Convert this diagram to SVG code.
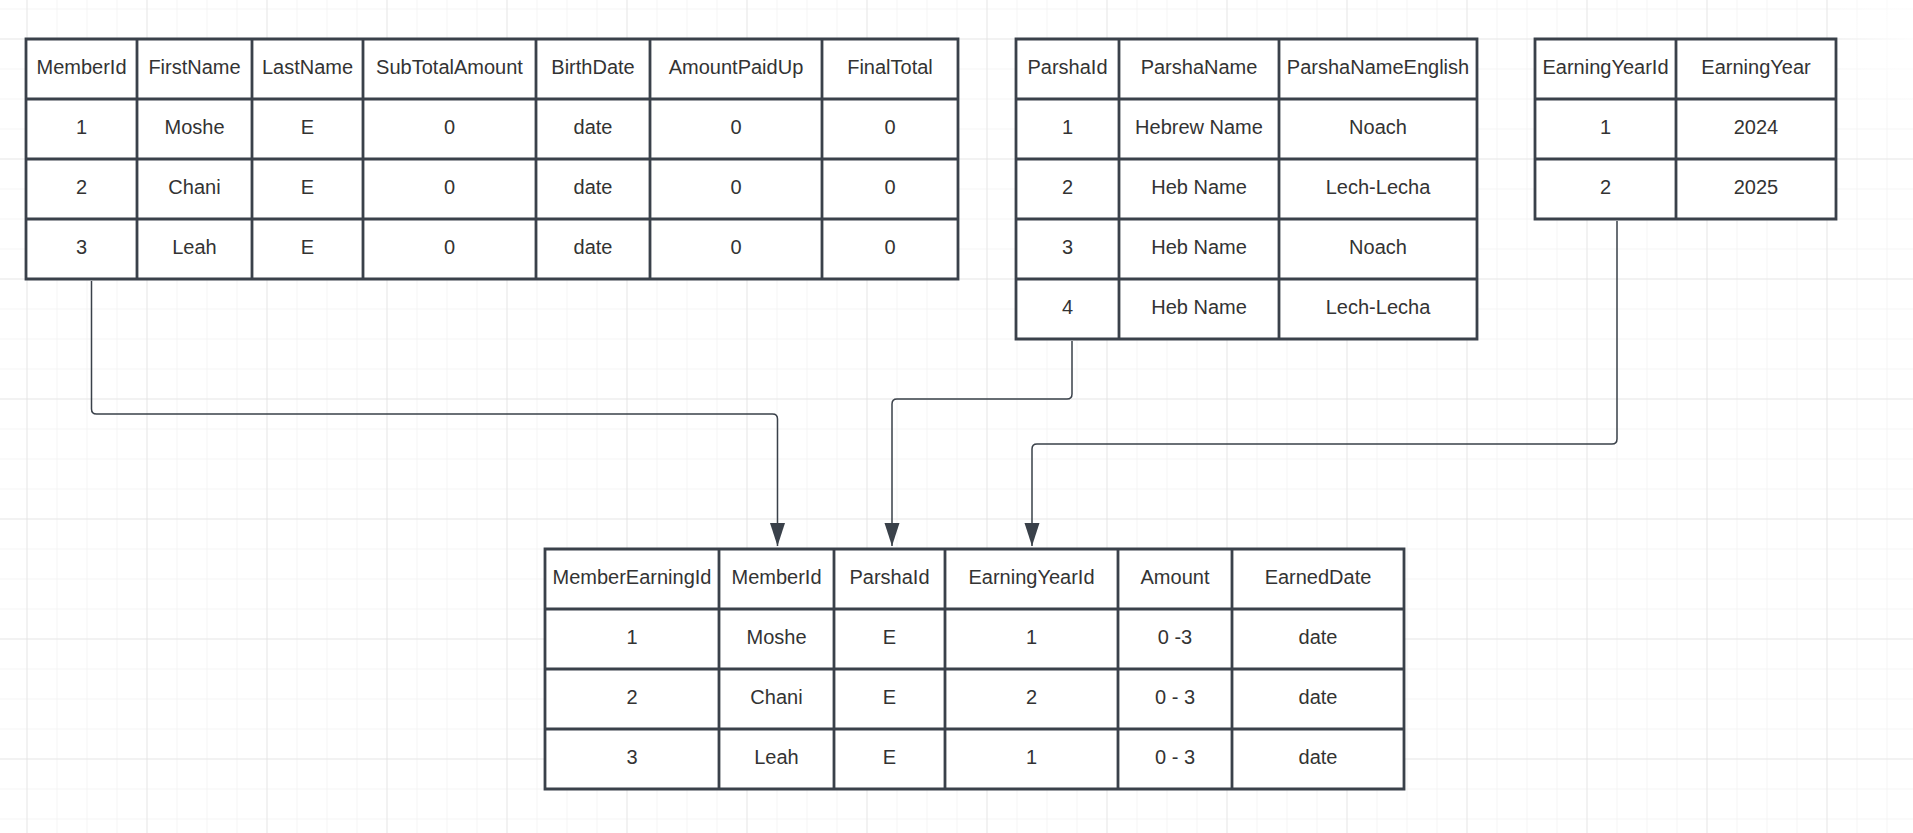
<svg xmlns="http://www.w3.org/2000/svg" width="1913" height="833" viewBox="0 0 1913 833">
  <defs>
    <!-- background grid: minor every 30px, major every 120px -->
    <pattern id="minorGrid" x="26.5" y="8.5" width="30" height="30" patternUnits="userSpaceOnUse">
      <path d="M 0 0 H 30 M 0 0 V 30" fill="none" stroke="#ebebeb" stroke-width="1"/>
    </pattern>
    <pattern id="majorGrid" x="26.5" y="38.5" width="120" height="120" patternUnits="userSpaceOnUse">
      <path d="M 0 0 H 120 M 0 0 V 120" fill="none" stroke="#dcdcdc" stroke-width="1"/>
    </pattern>
    <radialGradient id="cornerFade" cx="1913" cy="40" r="90" gradientUnits="userSpaceOnUse">
      <stop offset="0" stop-color="#ffffff" stop-opacity="0.9"/>
      <stop offset="1" stop-color="#ffffff" stop-opacity="0"/>
    </radialGradient>
    <marker id="arrow" markerUnits="userSpaceOnUse" markerWidth="24" markerHeight="16" viewBox="0 -8 24 16" refX="23" refY="0" orient="auto">
      <path d="M 0 -7.5 L 23 0 L 0 7.5 Z" fill="#3a414a"/>
    </marker>
    <style>
      .cell { fill: #ffffff; stroke: #3a414a; stroke-width: 2.8; }
      .txt { font-family: "Liberation Sans", Arial, sans-serif; font-size: 20px; fill: #333333; text-anchor: middle; }
      .link { fill: none; stroke: #3a414a; stroke-width: 1.5; marker-end: url(#arrow); }
    </style>
  </defs>

  <!-- canvas -->
  <rect x="0" y="0" width="1913" height="833" fill="#ffffff"/>
  <rect x="0" y="0" width="1913" height="833" fill="url(#minorGrid)"/>
  <rect x="0" y="0" width="1913" height="833" fill="url(#majorGrid)"/>
  <rect x="1780" y="0" width="133" height="140" fill="url(#cornerFade)"/>

  <!-- Member table -->
  <g id="member">
    <path class="cell" d="M 26 39 H 958 V 279 H 26 Z M 26 99 H 958 M 26 159 H 958 M 26 219 H 958 M 137 39 V 279 M 252 39 V 279 M 363 39 V 279 M 536 39 V 279 M 650 39 V 279 M 822 39 V 279"/>
    <g class="txt">
      <text x="81.5" y="74">MemberId</text>
      <text x="194.5" y="74">FirstName</text>
      <text x="307.5" y="74">LastName</text>
      <text x="449.5" y="74">SubTotalAmount</text>
      <text x="593" y="74">BirthDate</text>
      <text x="736" y="74">AmountPaidUp</text>
      <text x="890" y="74">FinalTotal</text>

      <text x="81.5" y="134">1</text>
      <text x="194.5" y="134">Moshe</text>
      <text x="307.5" y="134">E</text>
      <text x="449.5" y="134">0</text>
      <text x="593" y="134">date</text>
      <text x="736" y="134">0</text>
      <text x="890" y="134">0</text>

      <text x="81.5" y="194">2</text>
      <text x="194.5" y="194">Chani</text>
      <text x="307.5" y="194">E</text>
      <text x="449.5" y="194">0</text>
      <text x="593" y="194">date</text>
      <text x="736" y="194">0</text>
      <text x="890" y="194">0</text>

      <text x="81.5" y="254">3</text>
      <text x="194.5" y="254">Leah</text>
      <text x="307.5" y="254">E</text>
      <text x="449.5" y="254">0</text>
      <text x="593" y="254">date</text>
      <text x="736" y="254">0</text>
      <text x="890" y="254">0</text>
    </g>
  </g>

  <!-- Parsha table -->
  <g id="parsha">
    <path class="cell" d="M 1016 39 H 1477 V 339 H 1016 Z M 1016 99 H 1477 M 1016 159 H 1477 M 1016 219 H 1477 M 1016 279 H 1477 M 1119 39 V 339 M 1279 39 V 339"/>
    <g class="txt">
      <text x="1067.5" y="74">ParshaId</text>
      <text x="1199" y="74">ParshaName</text>
      <text x="1378" y="74">ParshaNameEnglish</text>

      <text x="1067.5" y="134">1</text>
      <text x="1199" y="134">Hebrew Name</text>
      <text x="1378" y="134">Noach</text>

      <text x="1067.5" y="194">2</text>
      <text x="1199" y="194">Heb Name</text>
      <text x="1378" y="194">Lech-Lecha</text>

      <text x="1067.5" y="254">3</text>
      <text x="1199" y="254">Heb Name</text>
      <text x="1378" y="254">Noach</text>

      <text x="1067.5" y="314">4</text>
      <text x="1199" y="314">Heb Name</text>
      <text x="1378" y="314">Lech-Lecha</text>
    </g>
  </g>

  <!-- EarningYear table -->
  <g id="earning-year">
    <path class="cell" d="M 1535 39 H 1836 V 219 H 1535 Z M 1535 99 H 1836 M 1535 159 H 1836 M 1676 39 V 219"/>
    <g class="txt">
      <text x="1605.5" y="74">EarningYearId</text>
      <text x="1756" y="74">EarningYear</text>

      <text x="1605.5" y="134">1</text>
      <text x="1756" y="134">2024</text>

      <text x="1605.5" y="194">2</text>
      <text x="1756" y="194">2025</text>
    </g>
  </g>

  <!-- MemberEarning table -->
  <g id="member-earning">
    <path class="cell" d="M 545 549 H 1404 V 789 H 545 Z M 545 609 H 1404 M 545 669 H 1404 M 545 729 H 1404 M 719 549 V 789 M 834 549 V 789 M 945 549 V 789 M 1118 549 V 789 M 1232 549 V 789"/>
    <g class="txt">
      <text x="632" y="584">MemberEarningId</text>
      <text x="776.5" y="584">MemberId</text>
      <text x="889.5" y="584">ParshaId</text>
      <text x="1031.5" y="584">EarningYearId</text>
      <text x="1175" y="584">Amount</text>
      <text x="1318" y="584">EarnedDate</text>

      <text x="632" y="644">1</text>
      <text x="776.5" y="644">Moshe</text>
      <text x="889.5" y="644">E</text>
      <text x="1031.5" y="644">1</text>
      <text x="1175" y="644">0 -3</text>
      <text x="1318" y="644">date</text>

      <text x="632" y="704">2</text>
      <text x="776.5" y="704">Chani</text>
      <text x="889.5" y="704">E</text>
      <text x="1031.5" y="704">2</text>
      <text x="1175" y="704">0 - 3</text>
      <text x="1318" y="704">date</text>

      <text x="632" y="764">3</text>
      <text x="776.5" y="764">Leah</text>
      <text x="889.5" y="764">E</text>
      <text x="1031.5" y="764">1</text>
      <text x="1175" y="764">0 - 3</text>
      <text x="1318" y="764">date</text>
    </g>
  </g>

  <!-- foreign-key connectors -->
  <g id="connectors">
    <path class="link" d="M 91.5 281 V 409 Q 91.5 414 96.5 414 H 772.5 Q 777.5 414 777.5 419 V 546"/>
    <path class="link" d="M 1072 341 V 394 Q 1072 399 1067 399 H 897 Q 892 399 892 404 V 546"/>
    <path class="link" d="M 1617 221 V 439 Q 1617 444 1612 444 H 1037 Q 1032 444 1032 449 V 546"/>
  </g>
</svg>
